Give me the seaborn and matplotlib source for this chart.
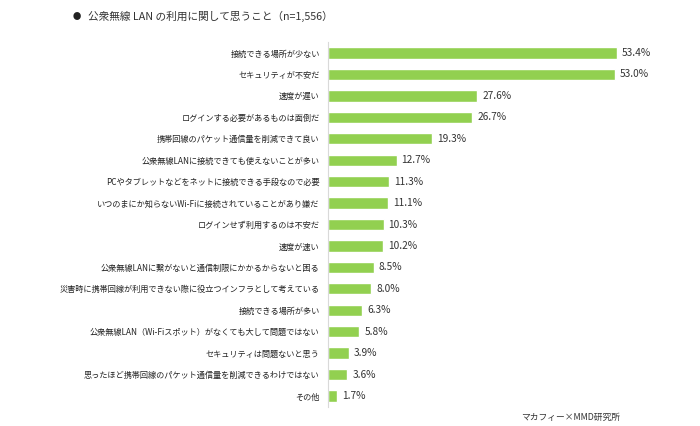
import matplotlib
matplotlib.use("Agg")
import matplotlib.pyplot as plt
import seaborn as sns
import pandas as pd

categories = [
    "接続できる場所が少ない",
    "セキュリティが不安だ",
    "速度が遅い",
    "ログインする必要があるものは面倒だ",
    "携帯回線のパケット通信量を削減できて良い",
    "公衆無線LANに接続できても使えないことが多い",
    "PCやタブレットなどをネットに接続できる手段なので必要",
    "いつのまにか知らないWi-Fiに接続されていることがあり嫌だ",
    "ログインせず利用するのは不安だ",
    "速度が速い",
    "公衆無線LANに繋がないと通信制限にかかるからないと困る",
    "災害時に携帯回線が利用できない際に役立つインフラとして考えている",
    "接続できる場所が多い",
    "公衆無線LAN（Wi-Fiスポット）がなくても大して問題ではない",
    "セキュリティは問題ないと思う",
    "思ったほど携帯回線のパケット通信量を削減できるわけではない",
    "その他",
]
values = [53.4, 53.0, 27.6, 26.7, 19.3, 12.7, 11.3, 11.1, 10.3, 10.2, 8.5, 8.0, 6.3, 5.8, 3.9, 3.6, 1.7]

title = "公衆無線 LAN の利用に関して思うこと（n=1,556）"
source = "マカフィー×MMD研究所"

sns.set_theme(style="white")
plt.rcParams["font.family"] = ["Noto Sans CJK JP", "DejaVu Sans"]

df = pd.DataFrame({"cat": categories, "val": values})

fig = plt.figure(figsize=(7, 4.26), dpi=100)
ax = fig.add_axes([328 / 700, 1 - 406.7 / 426, (665 - 328) / 700, (406.7 - 42.3) / 426])
sns.barplot(data=df, x="val", y="cat", orient="h", color="#92D050", saturation=1,
            width=0.53, ax=ax)
ax.set_xlim(0, 62.3)
ax.set_ylim(16.5, -0.5)
ax.set_xlabel("")
ax.set_ylabel("")
ax.set_xticks([])
for s in ["top", "right", "bottom"]:
    ax.spines[s].set_visible(False)
ax.spines["left"].set_color("#d9d9d9")
ax.spines["left"].set_linewidth(0.8)
ax.tick_params(axis="y", length=0, pad=6, labelsize=5.9, labelcolor="#222222")

for i, v in enumerate(values):
    ax.text(v + 0.9, i, f"{v:.1f}%", va="center", ha="left", fontsize=7.3,
            color="#333333")

fig.text(73 / 700, 1 - 16 / 426, "●", fontsize=6, va="center", ha="left", color="#222222")
fig.text(88 / 700, 1 - 16 / 426, title, fontsize=7.7, va="center", ha="left", color="#333333")
fig.text(620 / 700, 1 - 417 / 426, source, fontsize=6.3, va="center", ha="right", color="#333333")

fig.savefig("out.png", dpi=100)
